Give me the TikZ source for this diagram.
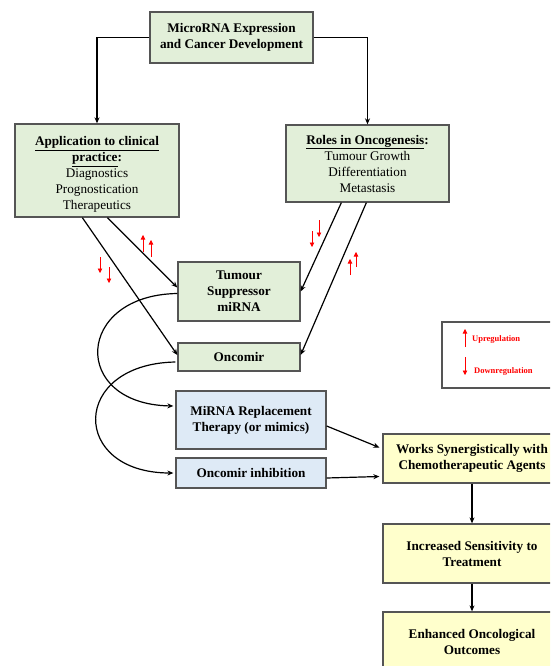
\documentclass[tikz,border=0pt]{standalone}
\usepackage{fontspec}
\setmainfont{Liberation Serif}
\usetikzlibrary{arrows.meta,calc}
\definecolor{gfill}{HTML}{E2EFD9}
\definecolor{bfill}{HTML}{DEEAF6}
\definecolor{yfill}{HTML}{FFFFCC}
\definecolor{bord}{HTML}{555555}
\begin{document}
\begin{tikzpicture}[x=1pt,y=-1pt,
  box/.style={draw=bord,line width=1.3pt,align=center,inner sep=0pt,
    font=\fontsize{13.2}{16}\selectfont\bfseries},
  gbox/.style={box,fill=gfill},
  bbox/.style={box,fill=bfill},
  ybox/.style={box,fill=yfill},
  conn/.style={line width=1.2pt,-{Stealth[length=6pt,width=5pt]}},
  redarr/.style={red,line width=0.6pt,-{Triangle[length=4.5pt,width=4.5pt]}},
  legtext/.style={anchor=west,red,font=\fontsize{8.5}{10}\selectfont\bfseries,inner sep=0pt}]
\useasboundingbox (0,0) rectangle (550,666);
\begin{scope}
\clip (0,0) rectangle (550,666);
\node[gbox,minimum width=163pt,minimum height=51pt] (top) at (231.5,37.5) {MicroRNA Expression\\and Cancer Development};
\node[gbox,minimum width=164pt,minimum height=93pt] (app) at (97,170.5) {};
\node[align=center,inner sep=0pt,font=\fontsize{13.2}{16}\selectfont\bfseries] (apptext) at ($(app.center)+(0,4)$) {\underline{Application to clinical}\\\underline{practice}:\\\mdseries Diagnostics\\\mdseries Prognostication\\\mdseries Therapeutics};
\node[gbox,minimum width=163pt,minimum height=77pt] (roles) at (367.5,163.5) {\underline{Roles in Oncogenesis}:\\\mdseries Tumour Growth\\\mdseries Differentiation\\\mdseries Metastasis};
\node[gbox,minimum width=122pt,minimum height=59pt] (ts) at (239,291.5) {Tumour\\Suppressor\\miRNA};
\node[gbox,minimum width=122pt,minimum height=28pt] (onc) at (239,357) {Oncomir};
\node[bbox,minimum width=150pt,minimum height=58pt] (rep) at (251,420) {MiRNA Replacement\\Therapy (or mimics)};
\node[bbox,minimum width=150pt,minimum height=30pt] (inh) at (251,473) {Oncomir inhibition};
\node[ybox,minimum width=178pt,minimum height=49pt] (works) at (472,458.5) {Works Synergistically with\\Chemotherapeutic Agents};
\node[ybox,minimum width=178pt,minimum height=59pt] (incr) at (472,553.5) {Increased Sensitivity to\\Treatment};
\node[ybox,minimum width=178pt,minimum height=60pt] (enh) at (472,642) {Enhanced Oncological\\Outcomes};
\node[draw=bord,line width=1.3pt,minimum width=120pt,minimum height=66pt,inner sep=0pt] (legend) at (502,355) {};
\end{scope}
% legend content
\coordinate (lu1) at (465,347); \coordinate (lu2) at (465,329);
\coordinate (ld1) at (465,357); \coordinate (ld2) at (465,375);
\draw[redarr] (lu1) -- (lu2);
\draw[redarr] (ld1) -- (ld2);
\node[legtext] (upl) at (472,339) {Upregulation};
\node[legtext] (downl) at (474,371) {Downregulation};
% connectors
\draw[conn] (top.west) -| (app.north);
\draw[conn] (top.east) -| (roles.north);
\draw[conn] ($(app.south west)+(68,0)$) -- ($(onc.west)+(0,-2)$);
\draw[conn] ($(app.south west)+(93,0)$) -- ($(ts.west)+(0,-4)$);
\draw[conn] ($(roles.south west)+(56,0)$) -- (ts.east);
\draw[conn] ($(roles.south west)+(81,0)$) -- ($(onc.east)+(0,-2)$);
\draw[conn] ($(ts.west)+(0,2)$) .. controls (75,295) and (70,404) .. ($(rep.west)+(-2,-14)$);
\draw[conn] ($(onc.west)+(-2,5)$) .. controls (70,364) and (70,473) .. ($(inh.west)+(-2,0)$);
\draw[conn] ($(rep.east)+(0,6)$) -- ($(works.west)+(-3,-11)$);
\draw[conn] ($(inh.east)+(0,5)$) -- ($(works.west)+(-3,18)$);
\draw[conn] (works.south) -- (incr.north);
\draw[conn] (incr.south) -- (enh.north);
% red arrows
\draw[redarr] (100,257) -- (100,273);
\draw[redarr] (109,267) -- (109,283);
\draw[redarr] (143,252) -- (143,235);
\draw[redarr] (151,257) -- (151,240);
\draw[redarr] (319,220) -- (319,237);
\draw[redarr] (312,231) -- (312,247);
\draw[redarr] (356,267) -- (356,252);
\draw[redarr] (350,275) -- (350,259);
\end{tikzpicture}
\end{document}
